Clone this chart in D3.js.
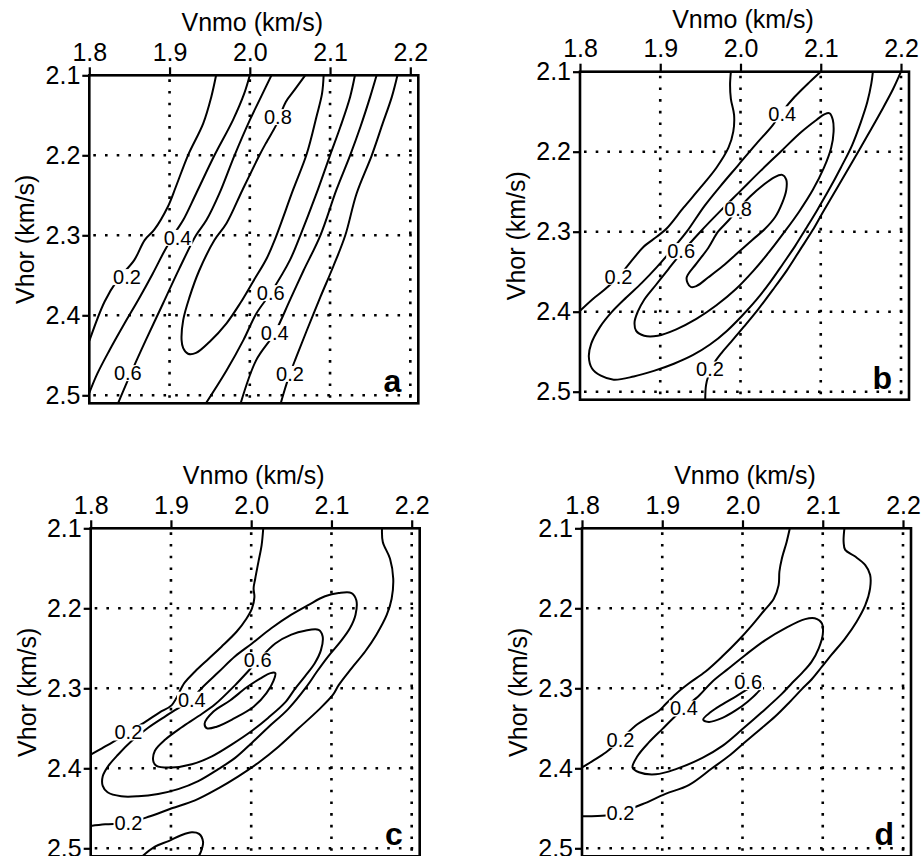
<!DOCTYPE html>
<html>
<head>
<meta charset="utf-8">
<script src="https://cdn.jsdelivr.net/npm/d3@7"></script>
<style>
  body { margin: 0; background: #fff; }
  svg { display: block; }
</style>
</head>
<body>
<div id="chart"></div>
<script>
// Axis values shared by the four panels
const vnmoTicks = [1.8, 1.9, 2.0, 2.1, 2.2];
const vhorTicks = [2.1, 2.2, 2.3, 2.4, 2.5];
const xTitle = 'Vnmo (km/s)';
const yTitle = 'Vhor (km/s)';

// Contour lines, [Vnmo, Vhor] points
// Panel a
const a02left = [[1.800,2.432],[1.819,2.383],[1.835,2.356],[1.856,2.331],[1.869,2.306],[1.881,2.293],[1.898,2.264],[1.908,2.239],[1.923,2.200],[1.942,2.160],[1.952,2.127],[1.958,2.100]];
const a04left = [[1.800,2.497],[1.810,2.473],[1.825,2.444],[1.844,2.410],[1.862,2.379],[1.879,2.348],[1.894,2.319],[1.908,2.295],[1.917,2.281],[1.933,2.248],[1.956,2.200],[1.979,2.156],[1.993,2.123],[2.000,2.100]];
const a06left = [[1.835,2.512],[1.852,2.472],[1.870,2.432],[1.892,2.385],[1.912,2.342],[1.933,2.300],[1.946,2.281],[1.962,2.248],[1.981,2.200],[2.000,2.156],[2.012,2.131],[2.027,2.100]];
const a08 = [[2.069,2.100],[2.056,2.118],[2.045,2.133],[2.037,2.152],[2.033,2.162],[2.020,2.185],[2.012,2.200],[1.991,2.243],[1.971,2.285],[1.956,2.306],[1.937,2.344],[1.925,2.377],[1.917,2.406],[1.915,2.431],[1.917,2.441],[1.923,2.448],[1.933,2.447],[1.950,2.433],[1.971,2.410],[1.988,2.385],[2.004,2.358],[2.021,2.329],[2.031,2.306],[2.054,2.243],[2.071,2.198],[2.083,2.152],[2.090,2.123],[2.092,2.100]];
const a06right = [[2.131,2.100],[2.125,2.127],[2.113,2.164],[2.100,2.200],[2.083,2.248],[2.063,2.300],[2.050,2.331],[2.026,2.372],[2.008,2.398],[1.992,2.431],[1.971,2.469],[1.944,2.512]];
const a04right = [[2.158,2.100],[2.150,2.127],[2.138,2.164],[2.125,2.200],[2.108,2.243],[2.088,2.300],[2.067,2.344],[2.050,2.381],[2.031,2.422],[2.008,2.456],[1.988,2.512]];
const a02right = [[2.184,2.100],[2.177,2.127],[2.165,2.162],[2.152,2.200],[2.133,2.248],[2.119,2.300],[2.104,2.339],[2.088,2.377],[2.071,2.419],[2.058,2.452],[2.050,2.473],[2.042,2.498],[2.038,2.512]];
const aLabels = [['0.8',2.035,2.152],['0.4',1.910,2.303],['0.2',1.847,2.352],['0.6',2.026,2.372],['0.4',2.031,2.422],['0.6',1.848,2.472],['0.2',2.050,2.473]];

// Panel b
const b02left = [[1.800,2.399],[1.815,2.385],[1.830,2.373],[1.848,2.356],[1.867,2.333],[1.879,2.319],[1.896,2.306],[1.908,2.296],[1.929,2.270],[1.950,2.245],[1.970,2.220],[1.985,2.195],[1.991,2.175],[1.992,2.154],[1.988,2.134],[1.987,2.117],[1.988,2.100]];
const b04 = [[2.100,2.100],[2.086,2.113],[2.067,2.132],[2.052,2.150],[2.040,2.167],[2.018,2.192],[1.997,2.217],[1.975,2.243],[1.955,2.268],[1.933,2.300],[1.915,2.322],[1.896,2.344],[1.877,2.364],[1.858,2.382],[1.840,2.400],[1.825,2.419],[1.814,2.440],[1.811,2.456],[1.815,2.471],[1.826,2.480],[1.842,2.485],[1.867,2.481],[1.892,2.474],[1.917,2.465],[1.941,2.454],[1.962,2.441],[1.983,2.424],[2.002,2.405],[2.020,2.385],[2.037,2.363],[2.053,2.340],[2.068,2.318],[2.081,2.297],[2.095,2.274],[2.110,2.248],[2.125,2.220],[2.139,2.192],[2.150,2.163],[2.158,2.138],[2.163,2.115],[2.165,2.100]];
const b02right = [[2.200,2.100],[2.190,2.122],[2.175,2.150],[2.157,2.182],[2.138,2.215],[2.120,2.246],[2.103,2.275],[2.090,2.298],[2.074,2.323],[2.058,2.348],[2.040,2.373],[2.022,2.397],[2.004,2.419],[1.988,2.438],[1.976,2.452],[1.966,2.466],[1.960,2.480],[1.957,2.492],[1.956,2.512]];
const b06 = [[2.111,2.152],[2.115,2.160],[2.116,2.175],[2.113,2.195],[2.104,2.220],[2.090,2.248],[2.073,2.275],[2.055,2.300],[2.036,2.325],[2.016,2.349],[1.994,2.372],[1.970,2.392],[1.945,2.409],[1.920,2.422],[1.897,2.430],[1.880,2.430],[1.870,2.424],[1.868,2.413],[1.872,2.400],[1.880,2.385],[1.895,2.366],[1.910,2.347],[1.926,2.327],[1.950,2.300],[1.975,2.274],[2.000,2.249],[2.025,2.224],[2.050,2.200],[2.075,2.176],[2.095,2.160],[2.105,2.153]];
const b08 = [[1.933,2.357],[1.945,2.340],[1.960,2.320],[1.972,2.300],[1.985,2.286],[1.997,2.272],[2.012,2.256],[2.028,2.242],[2.042,2.232],[2.052,2.229],[2.057,2.235],[2.057,2.248],[2.052,2.264],[2.043,2.282],[2.030,2.297],[2.015,2.310],[1.997,2.326],[1.978,2.343],[1.960,2.357],[1.945,2.368],[1.938,2.369],[1.934,2.364]];
const bLabels = [['0.4',2.052,2.153],['0.8',1.997,2.272],['0.6',1.926,2.324],['0.2',1.848,2.356],['0.2',1.962,2.472]];

// Panel c
const c02upper = [[1.800,2.383],[1.814,2.375],[1.828,2.367],[1.847,2.355],[1.868,2.342],[1.886,2.330],[1.901,2.321],[1.917,2.293],[1.930,2.279],[1.947,2.263],[1.963,2.248],[1.982,2.229],[1.994,2.213],[2.001,2.200],[2.004,2.186],[2.003,2.175],[2.005,2.163],[2.009,2.142],[2.013,2.121],[2.015,2.100]];
const c04 = [[2.125,2.181],[2.131,2.190],[2.130,2.208],[2.123,2.225],[2.111,2.242],[2.096,2.260],[2.082,2.279],[2.069,2.298],[2.046,2.326],[2.021,2.349],[2.001,2.368],[1.980,2.387],[1.959,2.401],[1.934,2.416],[1.909,2.426],[1.884,2.432],[1.859,2.435],[1.838,2.435],[1.821,2.430],[1.815,2.422],[1.815,2.410],[1.822,2.397],[1.834,2.383],[1.851,2.366],[1.872,2.349],[1.893,2.335],[1.912,2.323],[1.926,2.313],[1.940,2.298],[1.959,2.280],[1.980,2.260],[2.001,2.244],[2.025,2.225],[2.050,2.208],[2.071,2.196],[2.092,2.185],[2.109,2.181]];
const c06 = [[2.084,2.227],[2.089,2.235],[2.087,2.252],[2.079,2.269],[2.067,2.285],[2.055,2.300],[2.042,2.318],[2.021,2.337],[2.001,2.353],[1.976,2.370],[1.951,2.385],[1.926,2.395],[1.901,2.399],[1.882,2.397],[1.878,2.391],[1.880,2.378],[1.893,2.364],[1.913,2.349],[1.934,2.335],[1.955,2.320],[1.980,2.296],[2.008,2.266],[2.030,2.244],[2.050,2.233],[2.067,2.228]];
const c08 = [[2.030,2.281],[2.028,2.290],[2.019,2.306],[2.003,2.323],[1.978,2.338],[1.957,2.348],[1.945,2.350],[1.942,2.344],[1.953,2.329],[1.974,2.315],[1.994,2.299],[2.011,2.288],[2.024,2.281]];
const c02lower = [[1.800,2.472],[1.818,2.470],[1.847,2.468],[1.874,2.460],[1.901,2.450],[1.930,2.440],[1.959,2.425],[1.984,2.410],[2.009,2.393],[2.034,2.373],[2.059,2.350],[2.084,2.327],[2.102,2.308],[2.109,2.296],[2.125,2.275],[2.142,2.254],[2.156,2.233],[2.169,2.208],[2.175,2.188],[2.177,2.163],[2.173,2.138],[2.164,2.117],[2.163,2.100]];
const c02bump = [[1.862,2.512],[1.880,2.498],[1.897,2.491],[1.912,2.484],[1.926,2.480],[1.935,2.482],[1.940,2.492],[1.937,2.505],[1.932,2.514]];
const cLabels = [['0.6',2.008,2.265],['0.4',1.926,2.314],['0.2',1.847,2.355],['0.2',1.847,2.468]];

// Panel d
const d02upper = [[1.800,2.399],[1.813,2.391],[1.830,2.380],[1.848,2.364],[1.869,2.345],[1.883,2.336],[1.896,2.328],[1.904,2.320],[1.917,2.307],[1.933,2.294],[1.954,2.279],[1.975,2.260],[1.995,2.240],[2.012,2.221],[2.026,2.204],[2.039,2.188],[2.045,2.171],[2.046,2.154],[2.049,2.138],[2.055,2.117],[2.059,2.100]];
const d04 = [[2.090,2.2125],[2.099,2.219],[2.100,2.233],[2.095,2.250],[2.086,2.267],[2.074,2.281],[2.062,2.293],[2.049,2.307],[2.024,2.330],[2.000,2.351],[1.975,2.372],[1.950,2.387],[1.917,2.401],[1.892,2.4075],[1.871,2.405],[1.863,2.399],[1.869,2.385],[1.883,2.368],[1.900,2.351],[1.912,2.339],[1.927,2.325],[1.946,2.309],[1.962,2.292],[1.983,2.275],[2.004,2.258],[2.028,2.240],[2.053,2.225],[2.078,2.2135]];
const d06 = [[1.951,2.339],[1.958,2.342],[1.975,2.337],[1.991,2.328],[2.006,2.317],[2.018,2.306],[2.024,2.298],[2.020,2.294],[2.008,2.300],[1.992,2.310],[1.975,2.320],[1.960,2.330]];
const d02lower = [[1.800,2.460],[1.830,2.459],[1.848,2.455],[1.875,2.445],[1.904,2.432],[1.933,2.421],[1.962,2.400],[1.985,2.383],[2.000,2.370],[2.020,2.353],[2.041,2.335],[2.058,2.318],[2.074,2.301],[2.086,2.289],[2.099,2.273],[2.111,2.258],[2.128,2.2375],[2.142,2.217],[2.153,2.196],[2.159,2.175],[2.159,2.158],[2.153,2.146],[2.140,2.135],[2.128,2.127],[2.126,2.117],[2.127,2.100]];
const dLabels = [['0.6',2.007,2.292],['0.4',1.927,2.325],['0.2',1.848,2.364],['0.2',1.848,2.456]];

const FONT = '"Liberation Sans", Arial, Helvetica, sans-serif';
const W = 321, H = 320, EXT = 8;   // plot size for 0.4 km/s, frame overhang

const panels = [
    { name: 'a', x0: 89.3, y0: 75.3, open: [a02left, a04left, a06left, a08, a06right, a04right, a02right], closed: [], labels: aLabels },
    { name: 'b', x0: 580, y0: 71.7, open: [b02left, b04, b02right], closed: [b06, b08], labels: bLabels },
    { name: 'c', x0: 90.7, y0: 528.3, open: [c02upper, c02lower, c02bump], closed: [c04, c06, c08], labels: cLabels },
    { name: 'd', x0: 582, y0: 528.3, open: [d02upper, d02lower], closed: [d04, d06], labels: dLabels }
];

const svg = d3.select('#chart')
    .append('svg')
    .attr('width', 921)
    .attr('height', 856)
    .style('font-family', FONT);

const x = d3.scaleLinear().domain([1.8, 2.2]).range([0, W]);
const y = d3.scaleLinear().domain([2.1, 2.5]).range([0, H]);

const openLine = d3.line().x(d => x(d[0])).y(d => y(d[1])).curve(d3.curveCatmullRom.alpha(0.5));
const closedLine = d3.line().x(d => x(d[0])).y(d => y(d[1])).curve(d3.curveCatmullRomClosed.alpha(0.5));

panels.forEach(p => {
    const g = svg.append('g').attr('transform', `translate(${p.x0},${p.y0})`);

    // clip so contours stop at the frame
    g.append('clipPath').attr('id', 'clip-' + p.name)
        .append('rect').attr('width', W + EXT).attr('height', H + EXT);

    // dotted grid
    const grid = g.append('g')
        .attr('stroke', '#000')
        .attr('stroke-width', 2.6)
        .attr('stroke-dasharray', '2.6,9.1');
    grid.selectAll('.gx')
        .data(vnmoTicks.slice(1))
        .join('line')
        .attr('x1', d => x(d)).attr('x2', d => x(d))
        .attr('y1', 4).attr('y2', H + EXT);
    grid.selectAll('.gy')
        .data(vhorTicks.slice(1))
        .join('line')
        .attr('y1', d => y(d)).attr('y2', d => y(d))
        .attr('x1', 4).attr('x2', W + EXT);

    // contours
    const lines = g.append('g')
        .attr('clip-path', `url(#clip-${p.name})`)
        .attr('fill', 'none')
        .attr('stroke', '#000')
        .attr('stroke-width', 2)
        .attr('stroke-linejoin', 'round');
    lines.selectAll('.open').data(p.open).join('path').attr('d', openLine);
    lines.selectAll('.closed').data(p.closed).join('path').attr('d', closedLine);

    // contour labels on a white patch that breaks the line
    p.labels.forEach(([txt, v, h]) => {
        const lg = g.append('g');
        const t = lg.append('text')
            .attr('x', x(v))
            .attr('y', y(h))
            .attr('dy', '0.36em')
            .attr('text-anchor', 'middle')
            .attr('font-size', 20)
            .text(txt);
        const bb = t.node().getBBox();
        lg.insert('rect', 'text')
            .attr('x', bb.x - 1).attr('y', bb.y + 3)
            .attr('width', bb.width + 2).attr('height', bb.height - 6)
            .attr('fill', '#fff');
    });

    // axes
    const top = g.append('g')
        .call(d3.axisTop(x).tickValues(vnmoTicks).tickFormat(d3.format('.1f')).tickSize(8).tickPadding(6.5));
    const left = g.append('g')
        .call(d3.axisLeft(y).tickValues(vhorTicks).tickFormat(d3.format('.1f')).tickSize(7).tickPadding(2));
    [top, left].forEach(a => {
        a.attr('font-size', 25).attr('font-family', FONT);
        a.select('.domain').remove();
        a.selectAll('line').attr('stroke-width', 2.2);
        a.selectAll('text').attr('fill', '#000');
    });

    // frame
    g.append('rect')
        .attr('width', W + EXT).attr('height', H + EXT)
        .attr('fill', 'none')
        .attr('stroke', '#000')
        .attr('stroke-width', 2.6);

    // axis titles
    g.append('text')
        .attr('x', 163).attr('y', -44)
        .attr('text-anchor', 'middle')
        .attr('font-size', 25)
        .text(xTitle);
    g.append('text')
        .attr('transform', `translate(-55,164) rotate(-90)`)
        .attr('text-anchor', 'middle')
        .attr('font-size', 25)
        .text(yTitle);

    // panel letter
    g.append('text')
        .attr('x', x(2.2) - 9).attr('y', y(2.5) - 3)
        .attr('text-anchor', 'end')
        .attr('font-size', 32)
        .attr('font-weight', 'bold')
        .text(p.name);
});
</script>
</body>
</html>
